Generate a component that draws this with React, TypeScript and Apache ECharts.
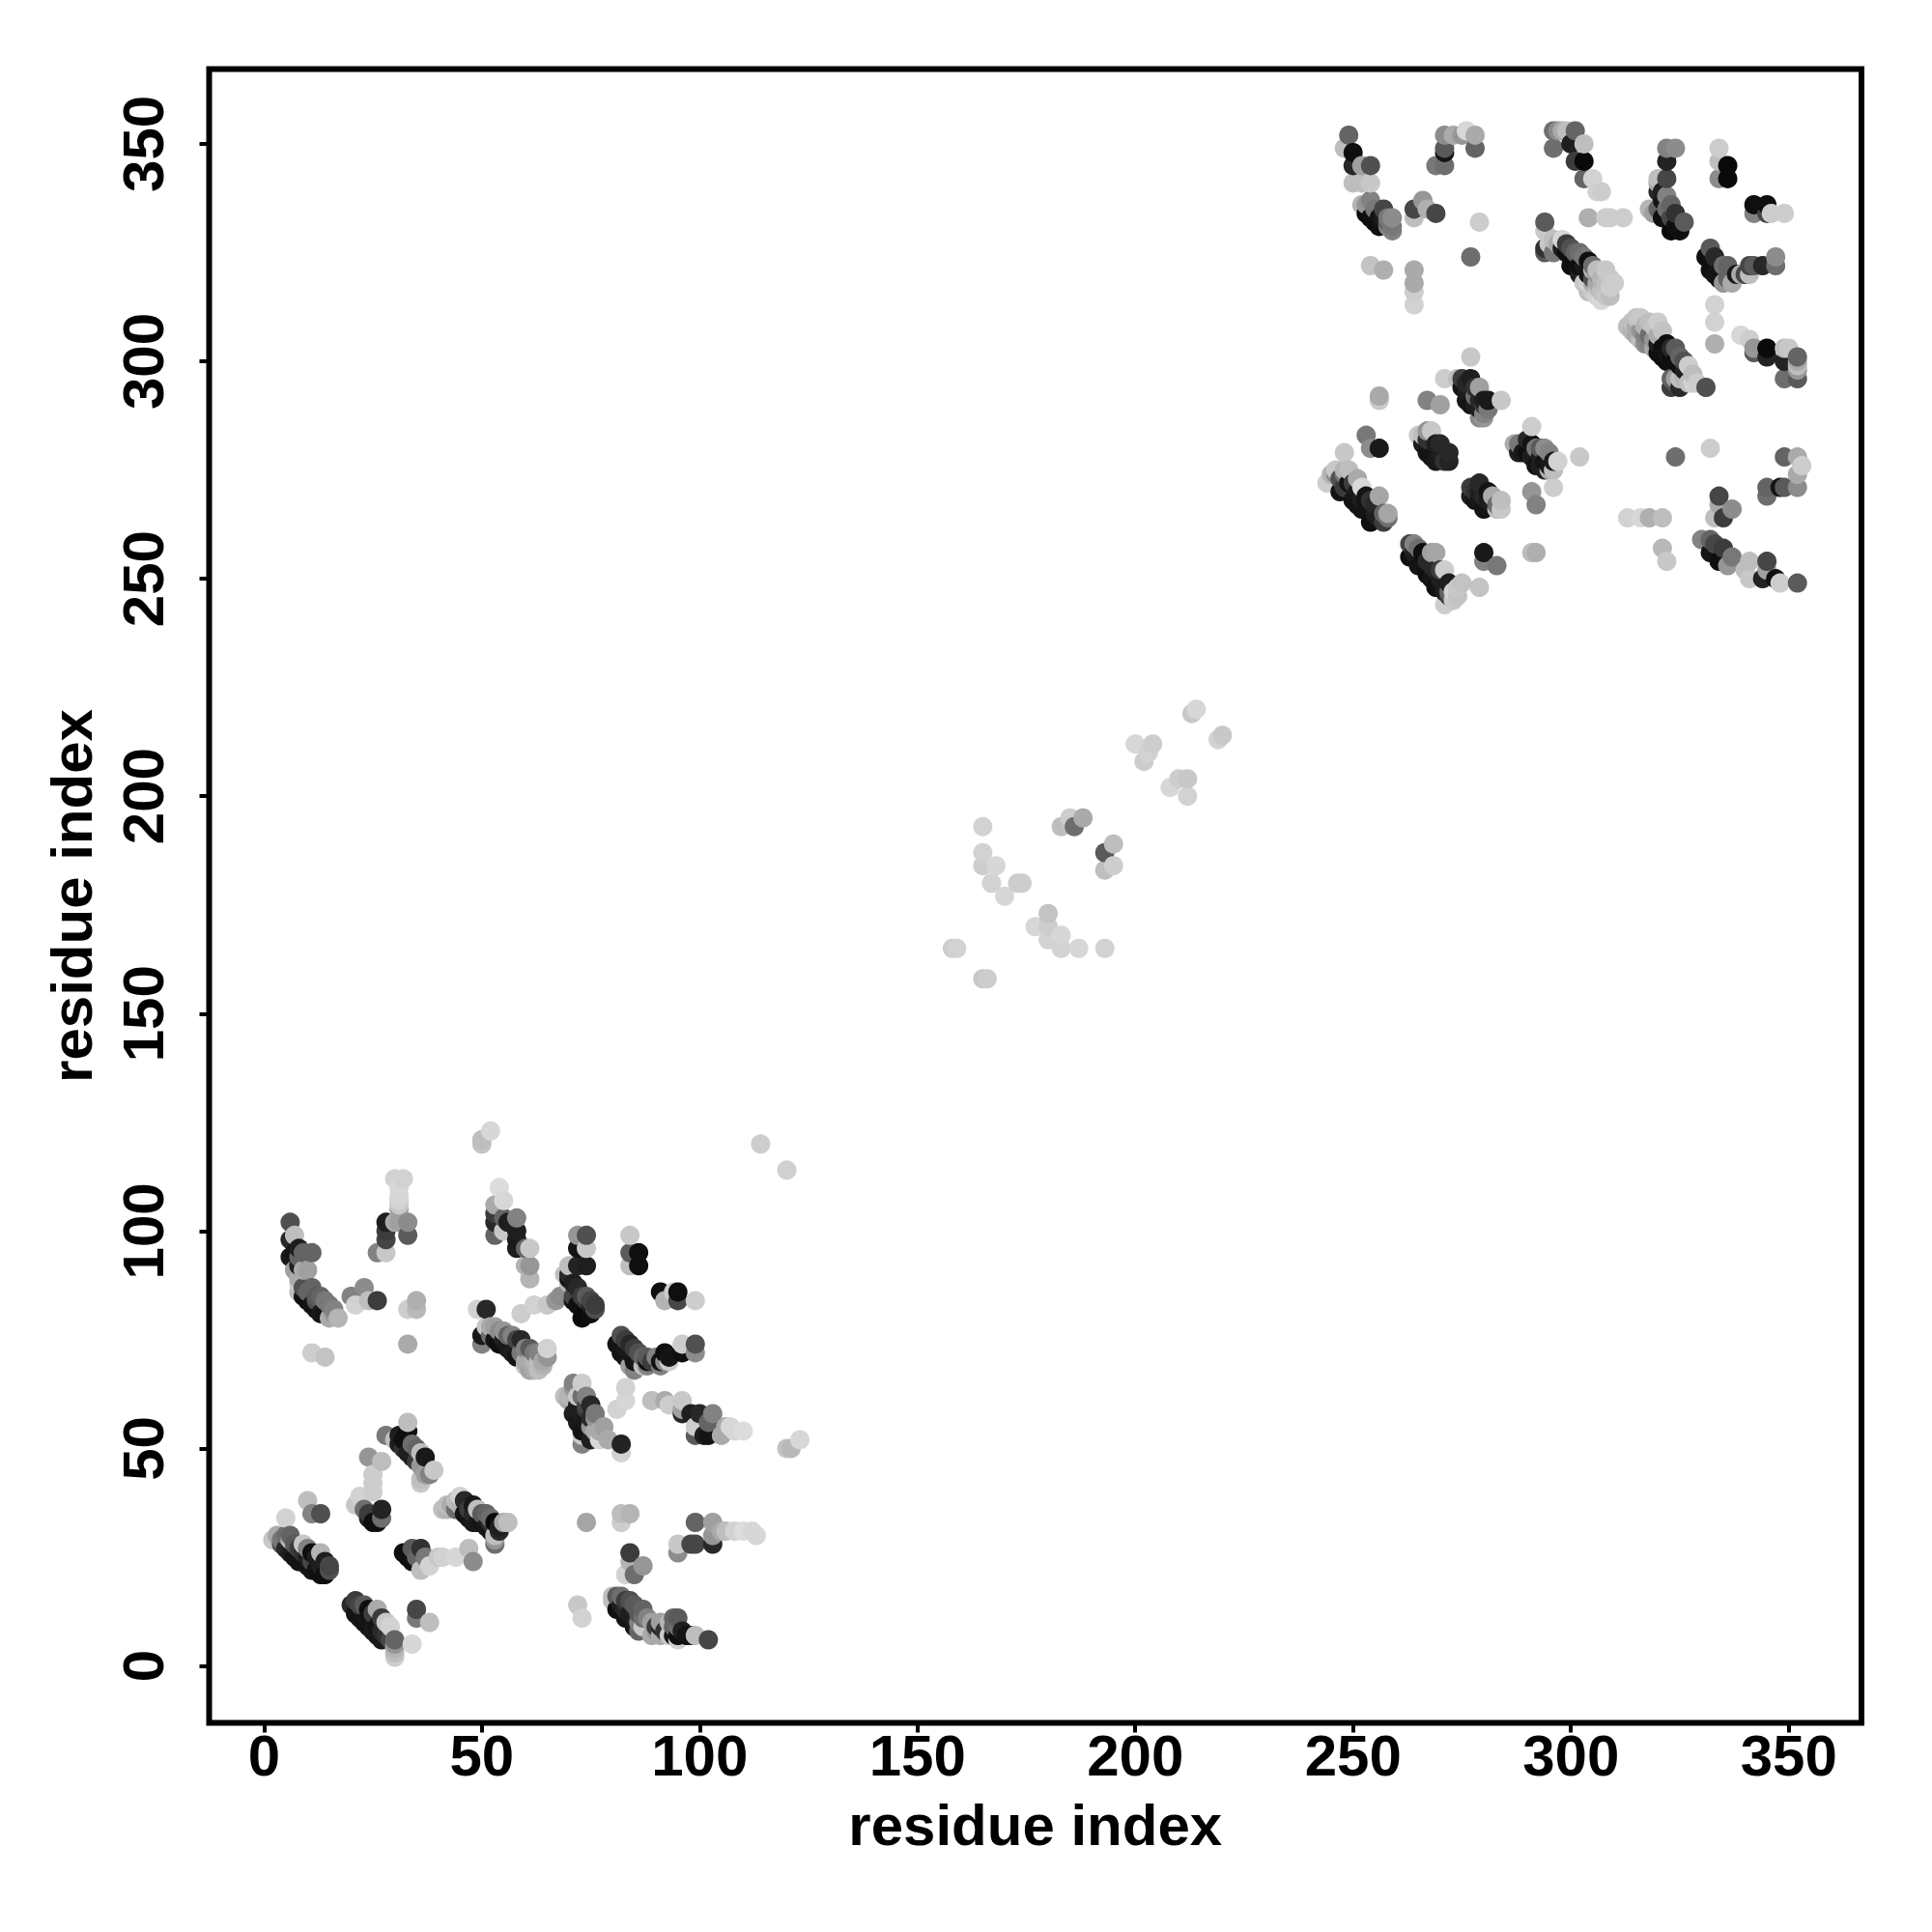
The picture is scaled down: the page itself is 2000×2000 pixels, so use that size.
import React, { useEffect, useRef } from "react";
import * as echarts from "echarts";

const tickValues = [0, 50, 100, 150, 200, 250, 300, 350];
const axisTitle = "residue index";

// [residue x, residue y, grey level]
const bandA = [[2,29,200],[3,30,170],[4,29,120],[4,28,80],[5,30,110],[5,27,40],[6,30,100],[6,26,30],[6,29,190],[7,25,20],[7,28,90],[8,24,20],[8,27,60],[9,24,20],[9,28,200],[9,26,50],[10,23,20],[10,25,30],[10,27,130],[11,22,20],[11,26,15],[11,24,70],[12,22,20],[12,25,30],[13,21,15],[13,23,30],[13,26,180],[14,21,15],[14,24,30],[15,22,80],[15,23,70],[5,34,210],[10,38,190],[11,35,130],[13,35,80]];
const bandB = [[20,14,40],[21,15,60],[21,12,20],[22,14,70],[22,11,20],[23,10,20],[23,14,90],[24,9,20],[24,13,15],[25,8,25],[25,12,60],[26,7,25],[26,13,170],[26,9,20],[27,6,25],[27,11,60],[27,8,40],[28,10,200],[28,7,50],[29,9,210],[29,6,70],[30,2,205],[30,3,190],[30,4,180],[30,5,150],[30,6,100],[35,11,120],[35,13,70],[38,10,190],[34,5,215]];
const clusterC = [[21,37,200],[22,39,210],[23,36,110],[24,34,30],[24,35,60],[25,33,15],[25,40,205],[25,42,205],[25,44,205],[26,33,15],[27,36,35],[27,34,110],[24,48,150],[27,47,190]];
const clusterD = [[28,53,120],[30,52,190],[31,53,30],[31,51,30],[32,52,15],[32,50,50],[33,54,15],[33,56,190],[33,49,30],[34,51,110],[34,48,30],[35,50,100],[35,47,60],[36,46,150],[36,49,190],[36,42,200],[36,43,190],[37,44,160],[37,48,25],[38,44,130],[39,45,200]];
const clusterE = [[41,36,190],[42,36,180],[43,37,170],[44,38,190],[45,39,210],[46,35,20],[47,34,20],[48,37,25],[48,33,25],[49,36,190],[50,35,90],[51,32,25],[52,34,110],[53,28,110],[53,30,190],[53,33,10],[54,31,40],[56,33,190],[42,37,190],[44,36,110],[45,37,180],[46,38,40],[47,36,60],[48,35,40],[49,33,25],[50,33,20],[51,35,100],[52,31,20],[52,33,50],[54,32,30],[55,33,170],[53,29,150]];
const clusterF = [[32,26,15],[33,25,15],[34,27,90],[34,24,15],[35,25,100],[36,27,50],[36,22,190],[37,25,120],[38,23,210],[40,25,200],[41,25,210],[44,25,215],[47,27,190],[48,24,140]];
const clusterG = [[6,102,80],[6,98,40],[7,99,190],[6,94,25],[7,95,20],[7,91,160],[9,95,100],[8,88,200],[8,86,190],[9,85,20],[10,84,15],[10,91,160],[11,95,100],[11,87,100],[11,83,20],[12,82,20],[13,85,100],[13,81,25],[14,84,120],[15,83,120],[15,80,170],[17,80,180],[11,72,205],[14,71,195],[8,89,170],[9,87,80],[10,86,100],[12,85,90],[12,84,80],[14,81,20],[16,82,130],[16,81,150],[8,96,30],[8,94,100],[8,92,30],[9,91,170]];
const clusterGmid = [[21,83,210],[20,85,130],[23,87,140],[24,84,190],[26,84,60],[33,74,170],[33,82,205],[35,84,175],[35,82,185]];
const clusterH = [[26,95,130],[28,95,200],[28,98,70],[28,100,60],[28,102,30],[30,102,170],[33,99,90],[31,102,160],[33,102,140],[31,105,160],[31,106,200],[31,107,210],[31,108,215],[31,110,215],[30,112,210],[32,112,210]];
const clusterI = [[50,120,195],[50,121,190],[52,123,215],[53,99,100],[53,102,40],[53,104,60],[53,106,170],[55,103,100],[55,100,200],[54,110,220],[55,107,215],[56,102,30],[58,103,130],[58,100,30],[58,98,25],[58,96,30],[60,92,180],[60,96,100],[61,96,200],[61,92,150],[61,89,180]];
const clusterJ = [[49,82,210],[50,74,130],[50,76,25],[51,82,40],[51,78,200],[52,76,110],[53,75,20],[54,74,15],[55,77,150],[56,73,25],[57,76,130],[58,71,20],[59,75,40],[60,73,130],[61,68,160],[61,73,90],[62,70,180],[63,70,190],[65,71,150],[65,73,210],[59,81,205],[62,83,210],[65,83,200],[67,84,150],[52,78,170],[53,78,160],[54,77,140],[55,75,30],[56,76,100],[57,72,30],[58,75,70],[59,72,120],[60,70,170],[61,70,170],[62,72,120],[63,72,130],[64,69,180],[60,69,190],[62,68,170],[63,68,190],[64,70,170]];
const clusterK = [[68,85,140],[69,90,190],[70,92,190],[70,88,180],[70,89,15],[71,85,70],[71,84,15],[72,99,150],[72,96,20],[72,92,35],[73,83,15],[73,80,10],[74,99,80],[74,96,200],[74,92,30],[74,81,10],[74,84,60],[75,81,15],[76,82,80],[70,90,40],[71,88,30],[72,87,40],[73,85,60],[74,85,90],[75,83,30],[75,84,70],[76,83,60],[72,83,15]];
const clusterL = [[84,99,200],[84,95,90],[84,92,190],[86,92,15],[86,95,15],[92,84,180],[91,86,15],[94,86,205],[95,84,70],[95,86,15],[99,84,205]];
const clusterN = [[81,74,20],[82,76,80],[82,72,20],[83,71,20],[83,75,60],[84,69,160],[84,74,40],[85,70,20],[85,68,130],[86,72,80],[87,69,190],[88,69,130],[88,70,15],[90,71,130],[91,69,130],[92,72,15],[93,70,205],[96,72,15],[96,74,205],[99,72,140],[99,74,80],[83,73,25],[84,72,25],[85,73,60],[86,70,25],[87,71,100],[88,71,90],[89,70,60],[91,70,20],[92,70,140],[93,71,20]];
const clusterO = [[69,62,190],[70,61,170],[71,65,130],[71,58,30],[72,62,200],[72,56,25],[73,65,205],[73,62,110],[73,54,20],[73,53,200],[73,51,130],[74,59,60],[75,52,30],[75,57,40],[76,57,150],[77,52,215],[78,55,160],[79,52,170],[82,49,210],[82,51,35],[81,59,210],[83,61,215],[83,64,210],[70,62,180],[71,64,150],[72,60,30],[73,58,30],[74,56,25],[75,55,150],[76,54,170],[77,54,170],[74,62,130],[74,60,70],[75,60,40],[76,58,120]];
const clusterP = [[89,61,190],[92,61,170],[93,60,205],[96,61,200],[96,59,160],[96,58,40],[98,58,30],[99,53,90],[99,55,205],[100,58,40],[101,53,30],[102,53,20],[102,56,100],[103,58,130],[105,53,170],[106,55,170],[107,55,215],[108,54,215],[110,54,220],[120,50,195],[121,50,185],[123,52,215],[120,114,208],[114,120,205]];
const clusterR = [[74,33,165],[82,33,205],[82,35,190],[84,35,180],[84,26,60],[84,24,180],[83,21,210],[85,21,110],[87,23,150],[72,14,200],[73,11,210],[80,16,190],[80,15,190],[81,13,15],[81,16,90],[83,11,20],[83,15,60],[84,12,30],[85,14,90],[85,9,20],[86,8,100],[87,11,110],[87,9,200],[89,10,160],[91,7,170],[91,10,160],[92,8,50],[93,10,180],[94,7,20],[95,6,210],[95,7,15],[95,9,110],[95,11,90],[98,7,20],[99,7,190],[102,6,70],[82,14,30],[82,16,110],[83,13,40],[84,15,80],[85,11,30],[86,12,90],[86,10,130],[87,13,100],[88,11,130],[89,7,170],[90,9,60],[90,8,150],[91,9,40],[93,7,200],[94,9,100],[94,11,100],[96,8,30],[97,7,20]];
const clusterS = [[95,26,140],[95,28,200],[98,28,70],[99,28,70],[99,33,100],[103,28,40],[103,30,150],[103,33,160],[105,31,170],[106,31,190],[108,31,210],[110,31,220],[112,31,215],[113,30,215]];

const middleCluster = [[158,165,205],[159,165,210],[165,158,200],[166,158,205],[193,165,210],[187,165,215],[183,165,210],[165,193,210],[165,187,210],[165,184,205],[168,184,215],[167,180,210],[170,177,215],[173,180,205],[174,180,205],[180,173,195],[177,170,215],[180,170,205],[180,167,210],[183,168,215],[183,193,190],[185,195,205],[186,193,110],[188,195,170],[193,187,90],[195,189,190],[193,183,190],[195,184,205],[200,212,215],[204,212,205],[202,208,205],[203,210,210],[208,202,215],[210,204,205],[212,204,200],[212,200,210],[213,219,200],[214,220,215],[219,213,210],[220,214,200]];

const upperA = [[248,349,190],[249,352,100],[250,345,40],[250,348,15],[250,341,190],[252,345,160],[252,341,190],[252,336,180],[253,334,10],[254,345,80],[254,341,200],[254,337,130],[255,332,15],[256,333,20],[257,335,70],[258,331,130],[259,333,140],[259,331,120],[264,333,190],[264,335,70],[266,337,150],[267,335,175],[269,334,70],[254,322,195],[257,321,175],[264,321,170],[264,318,170],[264,316,205],[264,313,210],[279,332,205],[277,324,110],[253,336,150],[254,333,15],[255,335,120],[256,331,15],[257,333,30],[258,333,120],[258,332,100],[259,330,130]];
const upperB = [[271,352,140],[273,352,170],[275,352,150],[276,353,215],[278,349,100],[278,352,170],[271,348,20],[271,349,90],[269,345,120],[271,345,110]];
const upperT = [[294,332,90],[294,330,200],[294,326,50],[294,325,90],[296,325,120],[295,327,200],[298,328,215],[299,327,60],[300,322,15],[301,325,100],[302,320,30],[303,322,25],[304,323,15],[304,316,190],[305,321,180],[306,321,190],[305,318,170],[306,317,190],[307,314,215],[308,321,200],[309,317,205],[309,315,190],[304,333,175],[296,328,190],[297,327,170],[298,326,30],[299,325,15],[300,326,80],[301,323,15],[302,325,110],[303,324,120],[302,322,15],[304,320,20],[305,322,110],[306,320,150],[303,318,200],[304,318,210],[305,316,200],[306,315,210],[307,316,190],[308,315,200],[308,318,190],[309,319,200],[310,318,205],[307,319,180],[306,318,170],[305,319,80]];
const upperTop = [[296,349,110],[296,353,110],[297,353,140],[298,353,170],[299,353,190],[301,353,100],[301,346,60],[303,342,100],[300,350,30],[303,350,190],[303,346,10],[305,342,210],[306,339,210],[307,339,205],[308,333,205],[309,333,205],[312,333,205]];
const upperU = [[318,335,180],[320,339,40],[320,342,190],[320,335,100],[321,333,15],[322,349,130],[324,349,140],[322,346,35],[322,342,70],[322,335,110],[323,330,10],[324,334,50],[325,330,15],[326,332,90],[321,339,30],[320,341,170],[321,337,20],[322,333,15],[323,333,70],[324,331,15],[323,336,100],[319,334,160],[322,338,130]];
const upperV = [[334,349,205],[334,346,190],[334,342,140],[336,345,10],[336,342,10],[342,334,130],[345,334,70],[342,336,15],[345,336,15],[346,334,205],[349,334,205]];
const upperX = [[331,324,15],[332,326,90],[332,321,15],[333,324,40],[334,319,20],[335,322,110],[335,318,150],[338,320,25],[340,320,70],[341,322,70],[341,320,190],[344,322,40],[347,322,110],[347,324,140],[333,313,210],[333,309,210],[333,304,175],[333,320,20],[336,319,100],[336,322,100],[337,318,170],[339,320,170],[342,322,90]];
const upperZ = [[339,306,215],[341,305,205],[342,302,90],[342,303,150],[345,301,35],[345,303,10],[349,296,110],[349,300,35],[349,303,190],[350,303,200],[352,296,90],[352,298,150],[352,299,190],[352,300,170],[352,301,100]];
const upperAA = [[313,308,190],[314,307,180],[315,306,170],[316,310,200],[316,305,190],[317,304,140],[318,309,190],[318,304,130],[319,303,170],[320,309,205],[320,302,15],[321,301,15],[322,304,15],[322,300,15],[323,296,100],[323,294,60],[324,303,90],[325,294,40],[325,296,190],[326,300,80],[327,299,205],[329,295,205],[331,294,80],[314,309,190],[315,310,195],[315,308,170],[316,307,150],[317,308,180],[317,306,130],[318,306,110],[319,305,150],[319,308,195],[320,306,170],[320,304,30],[321,307,195],[321,303,15],[322,302,20],[323,301,15],[323,303,40],[324,300,15],[325,299,15],[325,301,100],[326,298,30],[326,296,180],[324,296,160],[324,295,90],[327,295,190],[328,295,210],[328,297,190]];
const upperR = [[324,278,110],[332,280,205],[349,278,100],[352,278,170],[352,274,170],[352,271,140],[345,269,110],[345,271,100],[348,271,20],[349,271,90],[353,276,205],[334,267,170],[333,264,190],[337,266,140],[334,269,70],[335,264,60],[313,264,210],[316,264,215],[318,264,175],[321,264,190],[321,257,185],[322,254,200]];
const upperBB = [[330,259,130],[332,256,20],[332,259,100],[333,258,70],[334,254,15],[335,257,60],[336,253,150],[337,255,120],[340,252,190],[341,254,190],[341,250,200],[344,250,35],[345,252,160],[345,254,70],[347,250,15],[348,249,205],[352,249,90]];
const upperCC = [[244,272,205],[246,275,200],[246,274,140],[247,270,20],[248,279,200],[248,271,60],[249,272,20],[249,275,190],[250,268,20],[251,267,20],[252,271,215],[252,266,20],[253,269,20],[254,263,15],[255,265,30],[256,269,165],[257,263,60],[258,265,165],[256,292,170],[256,291,200],[253,283,120],[254,280,140],[256,280,25],[250,272,60],[251,270,25],[252,268,30],[253,267,20],[254,268,50],[255,267,40],[256,264,30],[257,265,100],[258,264,110],[248,274,120],[247,273,80],[248,275,180],[245,274,180],[251,273,170]];
const upperDD = [[267,291,130],[270,290,160],[265,283,200],[266,281,30],[267,279,20],[268,284,200],[268,278,20],[269,277,25],[270,281,40],[271,277,50],[272,279,40],[267,282,50],[269,281,30],[270,278,30],[272,277,35],[266,283,190],[267,284,150]];
const upperEE = [[271,296,205],[274,296,190],[275,296,60],[275,294,20],[276,293,30],[277,301,200],[277,296,30],[277,290,20],[278,292,110],[279,294,160],[279,289,30],[280,288,130],[280,287,150],[281,291,25],[284,291,200],[276,295,40],[276,291,25],[278,294,50],[278,290,30],[279,291,40],[280,290,60],[279,287,140],[280,291,30],[281,289,120]];
const upperFF = [[287,281,170],[288,281,120],[289,279,25],[290,279,15],[291,285,205],[291,281,20],[291,270,150],[292,276,20],[292,267,130],[293,278,30],[294,280,140],[295,276,25],[296,271,205],[296,275,190],[296,277,25],[297,277,210],[302,278,200],[288,279,30],[290,282,40],[291,278,30],[292,280,120],[293,280,90],[293,276,30],[294,277,20],[294,275,30],[295,279,130],[295,275,170]];
const upperGG = [[277,271,60],[278,268,20],[279,272,40],[280,266,20],[281,270,20],[283,267,110],[284,266,200],[284,268,190],[280,254,130],[280,256,25],[283,253,120],[279,248,195],[291,256,190],[292,256,175],[277,269,30],[278,270,50],[279,268,25],[279,270,30],[280,269,40],[281,268,30],[282,267,30],[282,269,170],[283,266,190]];
const upperHH = [[263,258,70],[264,258,130],[263,255,15],[265,253,20],[266,256,15],[267,251,15],[268,253,40],[269,256,165],[269,248,15],[270,250,30],[271,252,205],[272,246,60],[272,249,30],[271,244,205],[273,245,200],[274,246,195],[275,249,195],[264,256,30],[265,257,110],[266,254,20],[267,254,40],[268,250,20],[268,256,160],[269,252,40],[270,248,20],[271,247,30],[272,247,100],[273,247,210],[274,248,200],[270,252,60]];

const pointGroups = [bandA, bandB, clusterC, clusterD, clusterE, clusterF, clusterG, clusterGmid, clusterH, clusterI, clusterJ, clusterK, clusterL, clusterN, clusterO, clusterP, clusterR, clusterS, middleCluster, upperA, upperB, upperT, upperTop, upperU, upperV, upperX, upperZ, upperAA, upperR, upperBB, upperCC, upperDD, upperEE, upperFF, upperGG, upperHH];

const tickFont = { fontFamily: "Liberation Sans", fontWeight: "bold" as const, fontSize: 60, color: "#000" };
const titleFont = { fontFamily: "Liberation Sans", fontWeight: "bold" as const, fontSize: 60, color: "#000" };

export default function App() {
  const ref = useRef<HTMLDivElement>(null);
  useEffect(() => {
    const chart = echarts.init(ref.current!, null, { renderer: "svg" });
    // the reference draws its points column by column, bottom to top
    const points = pointGroups.flat().slice().sort((a, b) => a[0] - b[0] || a[1] - b[1]).map((p) => ({
      value: [p[0], p[1]],
      itemStyle: { color: `rgb(${p[2]},${p[2]},${p[2]})`, opacity: 1 },
    }));
    chart.setOption({
      animation: false,
      backgroundColor: "#fff",
      grid: { show: true, left: 216.5, right: 73, top: 71.5, bottom: 216.5, borderColor: "#000", borderWidth: 6, backgroundColor: "transparent" },
      xAxis: {
        type: "value", min: -12.6, max: 366.7, name: axisTitle, nameLocation: "middle", nameGap: 76,
        nameTextStyle: titleFont,
        axisLine: { show: false, onZero: false }, splitLine: { show: false },
        axisTick: { show: true, length: 10, lineStyle: { color: "#000", width: 4 }, customValues: tickValues },
        axisLabel: { ...tickFont, margin: 4, customValues: tickValues, formatter: (v: number) => String(v), hideOverlap: false },
      },
      yAxis: {
        type: "value", min: -13.1, max: 367.2, name: axisTitle, nameLocation: "middle", nameGap: 112,
        nameTextStyle: titleFont,
        axisLine: { show: false, onZero: false }, splitLine: { show: false },
        axisTick: { show: true, length: 10, lineStyle: { color: "#000", width: 4 }, customValues: tickValues },
        axisLabel: { ...tickFont, rotate: 90, margin: 68, customValues: tickValues, formatter: (v: number) => String(v), hideOverlap: false, verticalAlign: "middle", align: "center" },
      },
      series: [{ type: "scatter", symbol: "circle", symbolSize: 20, data: points, clip: false, itemStyle: { opacity: 1 } }],
    });
    return () => chart.dispose();
  }, []);
  return <div ref={ref} style={{ position: "absolute", left: 0, top: 0, width: 2000, height: 2000 }} />;
}
